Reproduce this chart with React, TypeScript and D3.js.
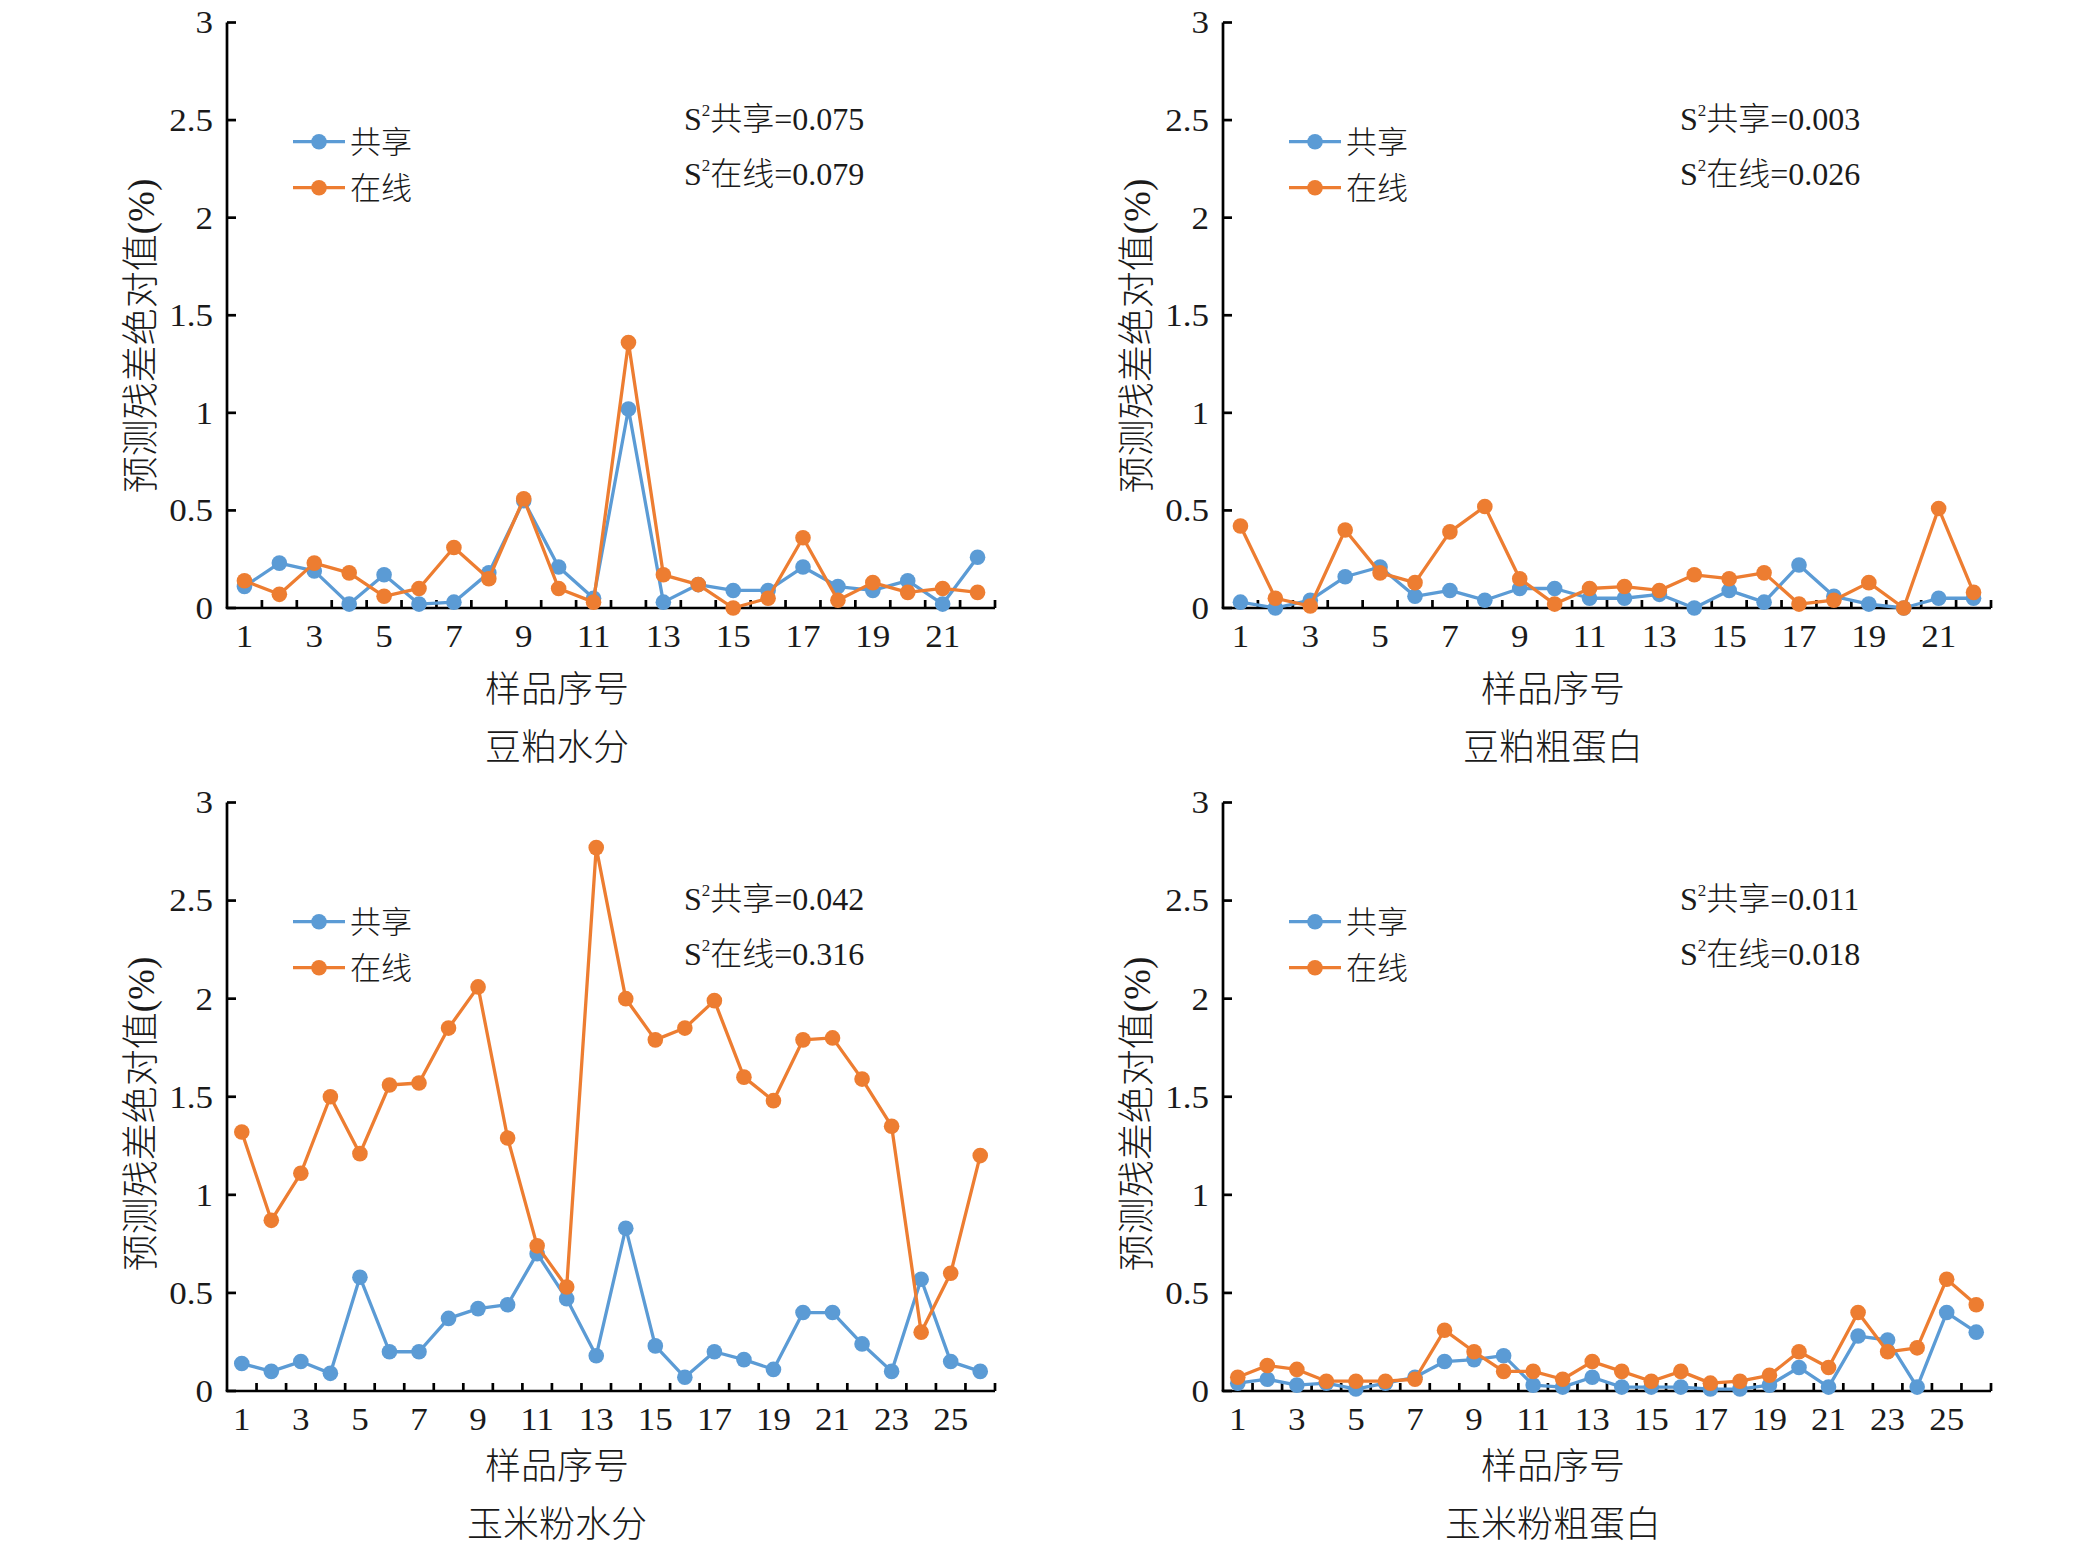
import React from "react";
import * as d3 from "d3";

// ---------------- data ----------------
const yTicks = [0, 0.5, 1, 1.5, 2, 2.5, 3];
const seriesNames = ["共享", "在线"];

const soyMoistShared = [0.11, 0.23, 0.19, 0.02, 0.17, 0.02, 0.03, 0.18, 0.55, 0.21, 0.05, 1.02, 0.03, 0.12, 0.09, 0.09, 0.21, 0.11, 0.09, 0.14, 0.02, 0.26];
const soyMoistOnline = [0.14, 0.07, 0.23, 0.18, 0.06, 0.10, 0.31, 0.15, 0.56, 0.10, 0.03, 1.36, 0.17, 0.12, 0.00, 0.05, 0.36, 0.04, 0.13, 0.08, 0.10, 0.08];

const soyProtShared = [0.03, 0.00, 0.04, 0.16, 0.21, 0.06, 0.09, 0.04, 0.10, 0.10, 0.05, 0.05, 0.07, 0.00, 0.09, 0.03, 0.22, 0.06, 0.02, 0.00, 0.05, 0.05];
const soyProtOnline = [0.42, 0.05, 0.01, 0.40, 0.18, 0.13, 0.39, 0.52, 0.15, 0.02, 0.10, 0.11, 0.09, 0.17, 0.15, 0.18, 0.02, 0.04, 0.13, 0.00, 0.51, 0.08];

const cornMoistShared = [0.14, 0.10, 0.15, 0.09, 0.58, 0.20, 0.20, 0.37, 0.42, 0.44, 0.70, 0.47, 0.18, 0.83, 0.23, 0.07, 0.20, 0.16, 0.11, 0.40, 0.40, 0.24, 0.10, 0.57, 0.15, 0.10];
const cornMoistOnline = [1.32, 0.87, 1.11, 1.50, 1.21, 1.56, 1.57, 1.85, 2.06, 1.29, 0.74, 0.53, 2.77, 2.00, 1.79, 1.85, 1.99, 1.60, 1.48, 1.79, 1.80, 1.59, 1.35, 0.30, 0.60, 1.20];

const cornProtShared = [0.04, 0.06, 0.03, 0.04, 0.01, 0.04, 0.07, 0.15, 0.16, 0.18, 0.03, 0.02, 0.07, 0.02, 0.02, 0.02, 0.01, 0.01, 0.03, 0.12, 0.02, 0.28, 0.26, 0.02, 0.40, 0.30];
const cornProtOnline = [0.07, 0.13, 0.11, 0.05, 0.05, 0.05, 0.06, 0.31, 0.20, 0.10, 0.10, 0.06, 0.15, 0.10, 0.05, 0.10, 0.04, 0.05, 0.08, 0.20, 0.12, 0.40, 0.20, 0.22, 0.57, 0.44];

const panelTitles = ["豆粕水分", "豆粕粗蛋白", "玉米粉水分", "玉米粉粗蛋白"];
const varShared = ["0.075", "0.003", "0.042", "0.011"];
const varOnline = ["0.079", "0.026", "0.316", "0.018"];
const xAxisTitle = "样品序号";
const yAxisTitle = "预测残差绝对值";
const yAxisUnit = "(%)";

const panelShared = [soyMoistShared, soyProtShared, cornMoistShared, cornProtShared];
const panelOnline = [soyMoistOnline, soyProtOnline, cornMoistOnline, cornProtOnline];

// ---------------- style ----------------
const BLUE = "#5B9BD5";
const ORANGE = "#ED7D31";
const LATIN = "'Liberation Serif', 'Times New Roman', serif";
const MIXED = "'Liberation Serif', 'Noto Sans CJK SC', serif";
const CJK = "'Noto Sans CJK SC', sans-serif";
const TXT = "#1a1a1a";

const W = 2082;
const H = 1559;

type Layout = { left: number; right: number; top: number; bottom: number };

const layouts: Layout[] = [
  { left: 227, right: 995, top: 22.5, bottom: 608 },
  { left: 1223, right: 1991, top: 22.5, bottom: 608 },
  { left: 227, right: 995, top: 802.5, bottom: 1391 },
  { left: 1223, right: 1991, top: 802.5, bottom: 1391 },
];

const SX = 1.13; // horizontal stretch of latin labels seen in the reference

function Panel({ idx }: { idx: number }) {
  const L = layouts[idx];
  const shared = panelShared[idx];
  const online = panelOnline[idx];
  const n = shared.length;
  const cats = shared.map((_, i) => i + 1);
  const x = d3.scaleLinear().domain([0.5, n + 0.5]).range([L.left, L.right]);
  const y = d3.scaleLinear().domain([0, 3]).range([L.bottom, L.top]);
  const line = d3
    .line<number>()
    .x((_, i) => x(i + 1))
    .y((d) => y(d));

  const top = idx < 2;
  const dy0 = top ? 0 : 780;
  const dx0 = idx % 2 === 0 ? 0 : 996;
  const titleCx = 557 + dx0;
  const series = [
    { vals: shared, color: BLUE },
    { vals: online, color: ORANGE },
  ];
  const boundaries = d3.range(1, n + 1).map((k) => x(k + 0.5));

  return (
    <g>
      {/* axes */}
      <line x1={L.left} x2={L.left} y1={L.top} y2={L.bottom} stroke="#000" strokeWidth={2.7} />
      <line x1={L.left - 1.3} x2={L.right} y1={L.bottom} y2={L.bottom} stroke="#000" strokeWidth={2.7} />
      {yTicks.map((t) => (
        <line key={"yt" + t} x1={L.left} x2={L.left + 9} y1={y(t)} y2={y(t)} stroke="#000" strokeWidth={2.7} />
      ))}
      {boundaries.map((bx, i) => (
        <line key={"xt" + i} x1={bx} x2={bx} y1={L.bottom} y2={L.bottom - 8} stroke="#000" strokeWidth={2.7} />
      ))}
      {yTicks.map((t) => (
        <text
          key={"yl" + t}
          transform={`translate(${L.left - 14},${y(t)}) scale(${SX},1)`}
          dy="0.35em"
          textAnchor="end"
          fontFamily={LATIN}
          fontSize={31}
          fill={TXT}
        >
          {t}
        </text>
      ))}
      {cats
        .filter((c) => c % 2 === 1)
        .map((c) => (
          <text
            key={"xl" + c}
            transform={`translate(${x(c)},${L.bottom + 39}) scale(${SX},1)`}
            textAnchor="middle"
            fontFamily={LATIN}
            fontSize={31}
            fill={TXT}
          >
            {c}
          </text>
        ))}

      {/* series */}
      {series.map((s, si) => (
        <g key={"s" + si}>
          <path d={line(s.vals) || ""} fill="none" stroke={s.color} strokeWidth={3.3} strokeLinejoin="round" />
          {s.vals.map((v, i) => (
            <circle key={i} cx={x(i + 1)} cy={y(v)} r={7.8} fill={s.color} />
          ))}
        </g>
      ))}

      {/* legend */}
      {series.map((s, si) => {
        const ly = 141.7 + si * 46 + dy0;
        return (
          <g key={"lg" + si}>
            <line x1={293 + dx0} x2={345 + dx0} y1={ly} y2={ly} stroke={s.color} strokeWidth={3.3} />
            <circle cx={319 + dx0} cy={ly} r={7.8} fill={s.color} />
            <text x={350 + dx0} y={ly} dy="0.36em" fontFamily={CJK} fontWeight={300} fontSize={31} fill={TXT}>
              {seriesNames[si]}
            </text>
          </g>
        );
      })}

      {/* variance annotations */}
      {[varShared[idx], varOnline[idx]].map((v, k) => (
        <text key={"v" + k} x={684 + dx0} y={130 + k * 55 + dy0} fontFamily={MIXED} fontSize={32} fill={TXT}>
          S
          <tspan fontSize={17} dy={-14}>2</tspan>
          <tspan dy={14} fontFamily={CJK} fontWeight={300}>{seriesNames[k]}</tspan>
          <tspan>={v}</tspan>
        </text>
      ))}

      {/* axis titles */}
      <text x={titleCx} y={top ? 689 : 1466} dy="0.35em" textAnchor="middle" fontFamily={CJK} fontWeight={300} fontSize={36} fill={TXT}>
        {xAxisTitle}
      </text>
      <text x={titleCx} y={top ? 747 : 1524} dy="0.35em" textAnchor="middle" fontFamily={CJK} fontWeight={300} fontSize={36} fill={TXT}>
        {panelTitles[idx]}
      </text>
      <text
        transform={`translate(${141 + dx0},${top ? 336 : 1114}) rotate(-90)`}
        dy="0.35em"
        textAnchor="middle"
        fontFamily={MIXED}
        fontSize={37}
        fill={TXT}
      >
        <tspan fontFamily={CJK} fontWeight={300}>{yAxisTitle}</tspan>
        <tspan>{yAxisUnit}</tspan>
      </text>
    </g>
  );
}

export default function App() {
  return (
    <div style={{ position: "absolute", left: 0, top: 0, width: W, height: H, background: "#fff" }}>
      <svg width={W} height={H} viewBox={`0 0 ${W} ${H}`} style={{ display: "block" }}>
        <rect width={W} height={H} fill="#fff" />
        {[0, 1, 2, 3].map((i) => (
          <Panel key={i} idx={i} />
        ))}
      </svg>
    </div>
  );
}
